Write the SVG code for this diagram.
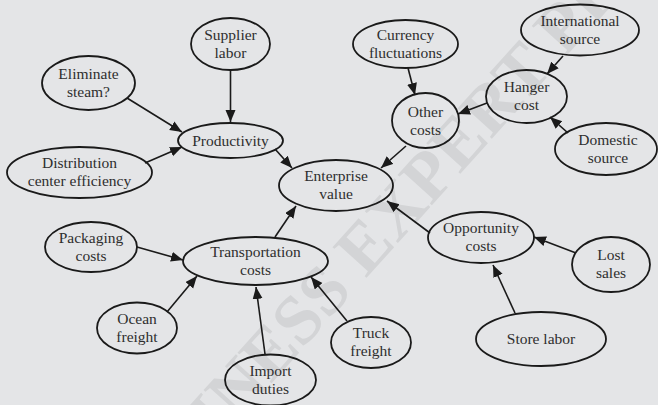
<svg xmlns="http://www.w3.org/2000/svg" width="658" height="405" viewBox="0 0 658 405">
  <defs>
    <marker id="arrow" markerUnits="userSpaceOnUse" markerWidth="13" markerHeight="11" refX="12" refY="5" orient="auto">
      <path d="M0,0 L12,5 L0,10 z" fill="#1a1a1a"/>
    </marker>
    <style>
      .node ellipse { fill: none; stroke: #1a1a1a; stroke-width: 1.8; }
      .node text { font-family: "Liberation Serif", "Times New Roman", serif; font-size: 15.5px; fill: #2e2e2e; text-anchor: middle; }
      #connectors line { stroke: #1a1a1a; stroke-width: 1.6; marker-end: url(#arrow); }
      .wm { font-family: "Liberation Serif", "Times New Roman", serif; font-size: 70px; font-weight: bold; fill: #d3d4d6; text-anchor: middle; }
    </style>
  </defs>

  <!-- background -->
  <rect x="0" y="0" width="658" height="405" fill="#e4e5e7"/>
  <!-- publisher watermark -->
  <g transform="translate(402,204) rotate(-48)">
    <text class="wm" x="0" y="23">BUSINESS EXPERT PRESS</text>
  </g>

  <!-- connectors -->
  <g id="connectors">
    <line x1="230.5" y1="70" x2="230.5" y2="122"/>
    <line x1="127" y1="98" x2="182" y2="132"/>
    <line x1="145" y1="163" x2="182" y2="147"/>
    <line x1="275" y1="149" x2="292" y2="168"/>
    <line x1="408" y1="68" x2="415" y2="95"/>
    <line x1="563" y1="56" x2="547" y2="74"/>
    <line x1="487" y1="103" x2="458" y2="114"/>
    <line x1="568" y1="133" x2="550" y2="117"/>
    <line x1="406" y1="146" x2="381" y2="168"/>
    <line x1="430" y1="233" x2="387" y2="201"/>
    <line x1="275" y1="237" x2="296" y2="206"/>
    <line x1="137" y1="247" x2="183" y2="260"/>
    <line x1="167" y1="312" x2="197" y2="276"/>
    <line x1="265" y1="354" x2="256" y2="287"/>
    <line x1="347" y1="321" x2="311" y2="277"/>
    <line x1="576" y1="253" x2="534" y2="237"/>
    <line x1="515" y1="313" x2="493" y2="265"/>
  </g>

  <!-- nodes -->
  <g id="supplier-labor" class="node">
    <ellipse cx="230.5" cy="44" rx="39.5" ry="26"/>
    <text x="230.5" y="39.5">Supplier</text>
    <text x="230.5" y="57.5">labor</text>
  </g>
  <g id="eliminate-steam" class="node">
    <ellipse cx="88.5" cy="83" rx="46.5" ry="27"/>
    <text x="88.5" y="78.5">Eliminate</text>
    <text x="88.5" y="96.5">steam?</text>
  </g>
  <g id="productivity" class="node">
    <ellipse cx="230.5" cy="140.5" rx="52.5" ry="17.5"/>
    <text x="230.5" y="145.5">Productivity</text>
  </g>
  <g id="distribution-center-efficiency" class="node">
    <ellipse cx="79.5" cy="172.5" rx="72.5" ry="25.5"/>
    <text x="79.5" y="168">Distribution</text>
    <text x="79.5" y="186">center efficiency</text>
  </g>
  <g id="enterprise-value" class="node">
    <ellipse cx="336" cy="185.5" rx="57" ry="25.5"/>
    <text x="336" y="181">Enterprise</text>
    <text x="336" y="199">value</text>
  </g>
  <g id="currency-fluctuations" class="node">
    <ellipse cx="405.5" cy="44" rx="52.5" ry="24"/>
    <text x="405.5" y="39.5">Currency</text>
    <text x="405.5" y="57.5">fluctuations</text>
  </g>
  <g id="international-source" class="node">
    <ellipse cx="580" cy="30" rx="59" ry="25.5"/>
    <text x="580" y="25.5">International</text>
    <text x="580" y="43.5">source</text>
  </g>
  <g id="hanger-cost" class="node">
    <ellipse cx="526.5" cy="96.5" rx="40.5" ry="26.5"/>
    <text x="526.5" y="92">Hanger</text>
    <text x="526.5" y="110">cost</text>
  </g>
  <g id="other-costs" class="node">
    <ellipse cx="425.5" cy="120.5" rx="33.5" ry="27.5"/>
    <text x="425.5" y="116.5">Other</text>
    <text x="425.5" y="135">costs</text>
  </g>
  <g id="domestic-source" class="node">
    <ellipse cx="606" cy="149" rx="51" ry="26"/>
    <text x="608" y="144.5">Domestic</text>
    <text x="608" y="162.5">source</text>
  </g>
  <g id="packaging-costs" class="node">
    <ellipse cx="91" cy="247" rx="46" ry="25"/>
    <text x="91" y="242.5">Packaging</text>
    <text x="91" y="260.5">costs</text>
  </g>
  <g id="transportation-costs" class="node">
    <ellipse cx="255.5" cy="261" rx="72.5" ry="24"/>
    <text x="255.5" y="257">Transportation</text>
    <text x="255.5" y="275">costs</text>
  </g>
  <g id="ocean-freight" class="node">
    <ellipse cx="137" cy="328" rx="40" ry="25.5"/>
    <text x="137" y="323.5">Ocean</text>
    <text x="137" y="341.5">freight</text>
  </g>
  <g id="import-duties" class="node">
    <ellipse cx="270.5" cy="380" rx="45.5" ry="25.5"/>
    <text x="270.5" y="375.5">Import</text>
    <text x="270.5" y="393.5">duties</text>
  </g>
  <g id="truck-freight" class="node">
    <ellipse cx="371" cy="342.5" rx="40" ry="25.5"/>
    <text x="371" y="338">Truck</text>
    <text x="371" y="356">freight</text>
  </g>
  <g id="opportunity-costs" class="node">
    <ellipse cx="481" cy="237.5" rx="53" ry="25.5"/>
    <text x="481" y="233">Opportunity</text>
    <text x="481" y="251">costs</text>
  </g>
  <g id="lost-sales" class="node">
    <ellipse cx="611" cy="264.5" rx="39" ry="27.5"/>
    <text x="611" y="260">Lost</text>
    <text x="611" y="278">sales</text>
  </g>
  <g id="store-labor" class="node">
    <ellipse cx="541" cy="339" rx="65" ry="27"/>
    <text x="541" y="344">Store labor</text>
  </g>
</svg>
